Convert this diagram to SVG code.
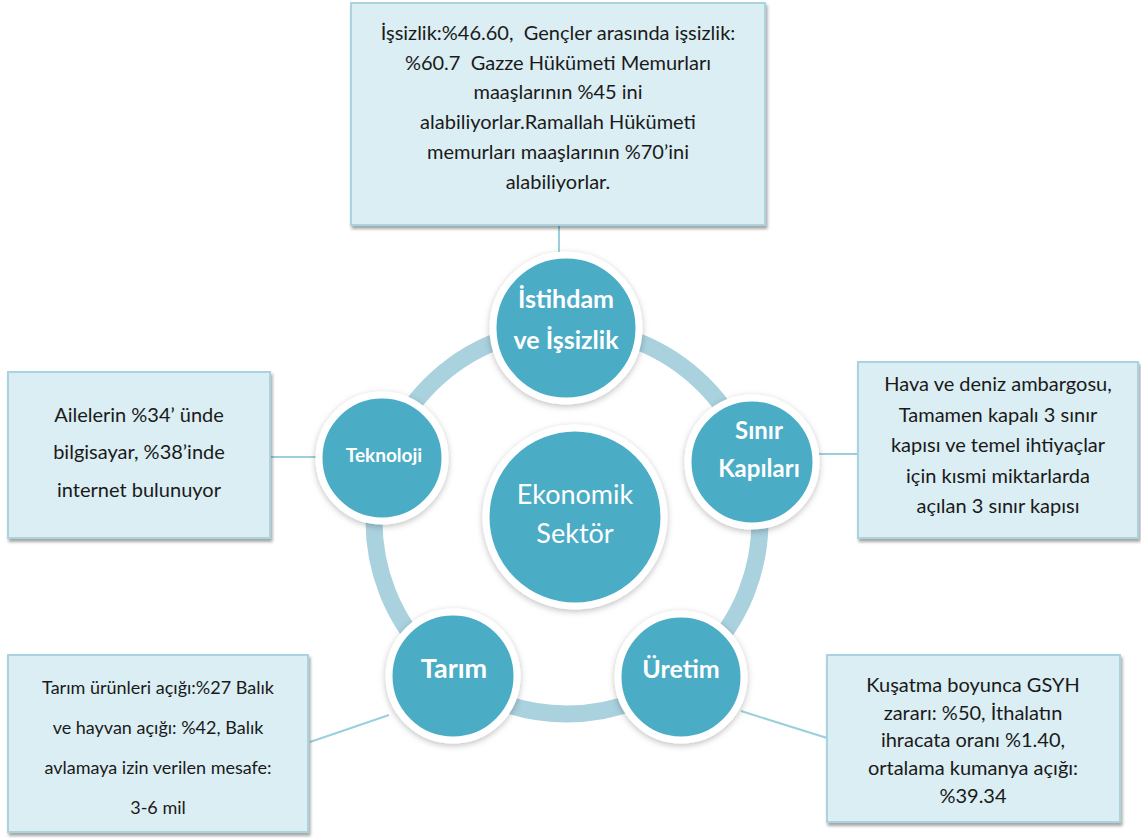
<svg xmlns="http://www.w3.org/2000/svg" width="1141" height="838" viewBox="0 0 1141 838">
<defs>
<filter id="bs" x="-10%" y="-10%" width="120%" height="125%">
<feDropShadow dx="1.5" dy="3" stdDeviation="1.5" flood-color="#000" flood-opacity="0.35"/>
</filter>
<filter id="cs" x="-20%" y="-20%" width="140%" height="140%">
<feDropShadow dx="0" dy="2" stdDeviation="3" flood-color="#000" flood-opacity="0.25"/>
</filter>
<style>
.box{fill:#DAEEF3;stroke:#A9D3DF;stroke-width:2;filter:url(#bs)}
.bt{font-family:Lato,"Open Sans","DejaVu Sans",sans-serif;font-size:20px;fill:#1a1a1a;text-anchor:middle;white-space:pre}
.ring{fill:none;stroke:#A9D1DE;stroke-width:17}
.node{fill:#4BACC6;stroke:#fff;stroke-width:7;filter:url(#cs)}
.nt{font-family:Lato,"Open Sans","DejaVu Sans",sans-serif;font-weight:bold;fill:#fff;text-anchor:middle}
.con{stroke:#9ACFDD;stroke-width:2;fill:none}
</style>
</defs>
<rect width="1141" height="838" fill="#fff"/>
<circle class="ring" cx="567" cy="521" r="193"/>
<g id="connectors">
<line class="con" x1="559" y1="226" x2="559" y2="256"/>
<line class="con" x1="270" y1="457" x2="316" y2="457"/>
<line class="con" x1="819" y1="454" x2="858" y2="454"/>
<line class="con" x1="310" y1="742" x2="389" y2="715"/>
<line class="con" x1="741" y1="711" x2="827" y2="738"/>
</g>
<g id="center">
<circle class="node" cx="575" cy="517" r="89"/>
<text class="nt" style="font-weight:normal;font-size:27px" x="575" y="504">Ekonomik</text>
<text class="nt" style="font-weight:normal;font-size:27px" x="575" y="543">Sektör</text>
</g>
<g id="istihdam">
<circle class="node" cx="566" cy="328" r="73"/>
<text class="nt" style="font-size:25px" x="566" y="308">İstihdam</text>
<text class="nt" style="font-size:25px" x="566" y="349">ve İşsizlik</text>
</g>
<g id="sinir">
<circle class="node" cx="752" cy="462" r="64"/>
<text class="nt" style="font-size:24px" x="759" y="439">Sınır</text>
<text class="nt" style="font-size:24px" x="759" y="477">Kapıları</text>
</g>
<g id="uretim">
<circle class="node" cx="681" cy="677" r="63"/>
<text class="nt" style="font-size:25px" x="681" y="678">Üretim</text>
</g>
<g id="tarim">
<circle class="node" cx="453" cy="676" r="64"/>
<text class="nt" style="font-size:27px" x="454" y="678">Tarım</text>
</g>
<g id="teknoloji">
<circle class="node" cx="382" cy="458" r="63"/>
<text class="nt" style="font-size:19px" x="384" y="462">Teknoloji</text>
</g>
<g id="box-top">
<rect class="box" x="351" y="3" width="414" height="222"/>
<text class="bt" x="558" y="40">İşsizlik:%46.60,  Gençler arasında işsizlik:</text>
<text class="bt" x="558" y="70">%60.7  Gazze Hükümeti Memurları</text>
<text class="bt" x="558" y="99">maaşlarının %45 ini</text>
<text class="bt" x="558" y="129">alabiliyorlar.Ramallah Hükümeti</text>
<text class="bt" x="558" y="159">memurları maaşlarının %70’ini</text>
<text class="bt" x="558" y="189">alabiliyorlar.</text>
</g>
<g id="box-teknoloji">
<rect class="box" x="8" y="372" width="262" height="166"/>
<text class="bt" x="139" y="422">Ailelerin %34’ ünde</text>
<text class="bt" x="139" y="459">bilgisayar, %38’inde</text>
<text class="bt" x="139" y="497">internet bulunuyor</text>
</g>
<g id="box-sinir">
<rect class="box" x="858" y="362" width="280" height="176"/>
<text class="bt" x="998" y="391">Hava ve deniz ambargosu,</text>
<text class="bt" x="998" y="422">Tamamen kapalı 3 sınır</text>
<text class="bt" x="998" y="452">kapısı ve temel ihtiyaçlar</text>
<text class="bt" x="998" y="483">için kısmi miktarlarda</text>
<text class="bt" x="998" y="513">açılan 3 sınır kapısı</text>
</g>
<g id="box-tarim">
<rect class="box" x="8" y="655" width="300" height="177"/>
<text class="bt" style="font-size:18px" x="158" y="694">Tarım ürünleri açığı:%27 Balık</text>
<text class="bt" style="font-size:18px" x="158" y="734">ve hayvan açığı: %42, Balık</text>
<text class="bt" style="font-size:18px" x="158" y="774">avlamaya izin verilen mesafe:</text>
<text class="bt" style="font-size:18px" x="158" y="814">3-6 mil</text>
</g>
<g id="box-uretim">
<rect class="box" x="827" y="655" width="293" height="167"/>
<text class="bt" x="973" y="692">Kuşatma boyunca GSYH</text>
<text class="bt" x="973" y="720">zararı: %50, İthalatın</text>
<text class="bt" x="973" y="747">ihracata oranı %1.40,</text>
<text class="bt" x="973" y="775">ortalama kumanya açığı:</text>
<text class="bt" x="973" y="803">%39.34</text>
</g>
</svg>
